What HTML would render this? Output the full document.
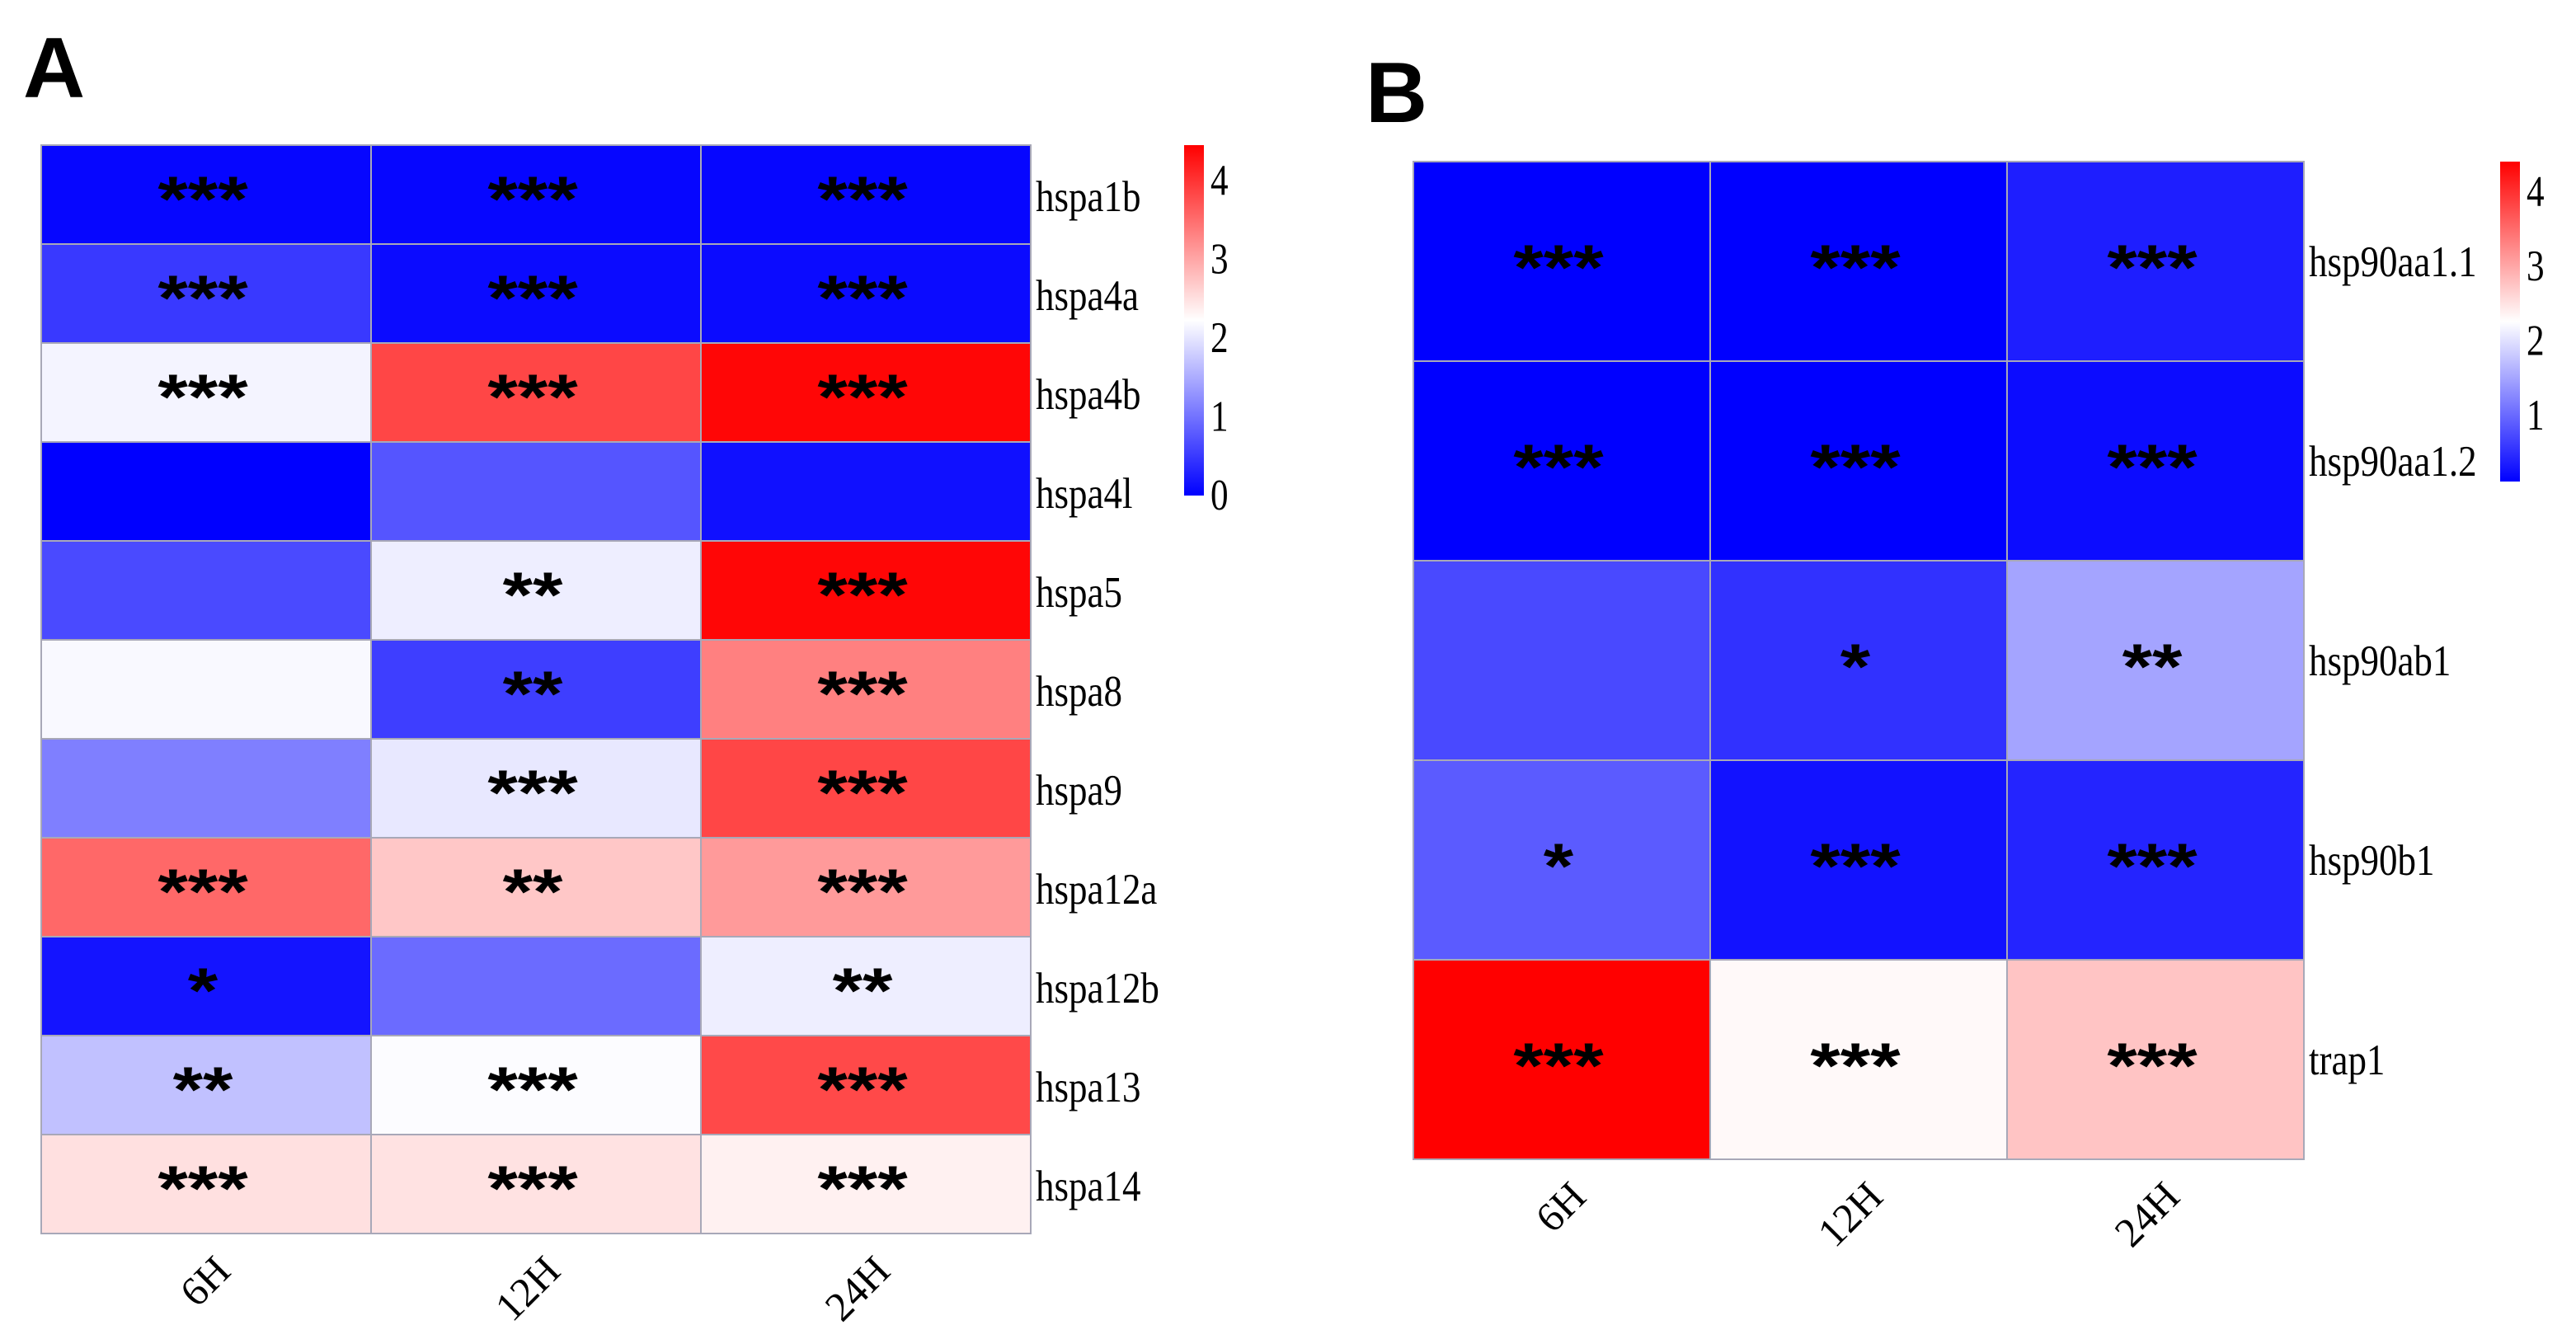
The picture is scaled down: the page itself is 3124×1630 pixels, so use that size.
<!DOCTYPE html>
<html><head><meta charset="utf-8"><style>
html,body{margin:0;padding:0;background:#fff;}
svg{display:block;}
text{font-family:"Liberation Serif",serif;}
.star{font-family:"Liberation Sans",sans-serif;font-weight:bold;}
.panel{font-family:"Liberation Sans",sans-serif;font-weight:bold;}
</style></head><body>
<svg id="chart" width="3124" height="1630" viewBox="0 0 3124 1630" xmlns="http://www.w3.org/2000/svg">
<defs>
<linearGradient id="gradA" x1="0" y1="1" x2="0" y2="0">
<stop offset="0" stop-color="#0000ff"/><stop offset="0.5" stop-color="#ffffff"/><stop offset="1" stop-color="#ff0000"/>
</linearGradient>
<linearGradient id="gradB" x1="0" y1="1" x2="0" y2="0">
<stop offset="0" stop-color="#0000ff"/><stop offset="0.5" stop-color="#ffffff"/><stop offset="1" stop-color="#ff0000"/>
</linearGradient>
</defs>
<text class="panel" x="28" y="118" font-size="104">A</text>
<text class="panel" x="1656" y="148" font-size="104">B</text>
<g id="gA"></g>
<g id="gB"></g>
</svg>
<script>
// Panel A data
const timepoints = ["6H", "12H", "24H"];
const genesA = ["hspa1b","hspa4a","hspa4b","hspa4l","hspa5","hspa8","hspa9","hspa12a","hspa12b","hspa13","hspa14"];
const valuesA = [
  [0.05,0.05,0.05],
  [0.5,0.1,0.1],
  [2.15,3.85,4.4],
  [0.0,0.75,0.14],
  [0.65,2.1,4.4],
  [2.2,0.55,3.35],
  [1.12,2.05,3.85],
  [3.55,2.73,3.12],
  [0.18,0.94,2.1],
  [1.7,2.22,3.82],
  [2.52,2.5,2.37]
];
const sigA = [
  ["***","***","***"],["***","***","***"],["***","***","***"],["","",""],
  ["","**","***"],["","**","***"],["","***","***"],["***","**","***"],
  ["*","","**"],["**","***","***"],["***","***","***"]
];
const ticksA = [0,1,2,3,4];
// Panel B data
const genesB = ["hsp90aa1.1","hsp90aa1.2","hsp90ab1","hsp90b1","trap1"];
const valuesB = [
  [0.15,0.15,0.4],
  [0.15,0.15,0.25],
  [0.75,0.55,1.5],
  [0.9,0.3,0.45],
  [4.4,2.3,2.75]
];
const sigB = [
  ["***","***","***"],["***","***","***"],["","*","**"],["*","***","***"],["***","***","***"]
];
const ticksB = [1,2,3,4];

const NS = "http://www.w3.org/2000/svg";
function mk(tag, attrs, parent){const e=document.createElementNS(NS,tag);for(const k in attrs)e.setAttribute(k,attrs[k]);parent.appendChild(e);return e;}
function colorFor(v, lo, mid, hi){
  let r,g,b;
  if(v<=mid){const t=Math.max(0,(v-lo)/(mid-lo));r=g=Math.round(255*t);b=255;}
  else{const t=Math.min(1,(v-mid)/(hi-mid));r=255;g=b=Math.round(255*(1-t));}
  return `rgb(${r},${g},${b})`;
}
function draw(cfg){
  const g=document.getElementById(cfg.id);
  const cw=(cfg.x1-cfg.x0)/cfg.cols.length, rh=(cfg.y1-cfg.y0)/cfg.rows.length;
  const xs=i=>cfg.x0+i*cw, ys=j=>cfg.y0+j*rh;
  cfg.rows.forEach((gene,j)=>{
    cfg.cols.forEach((c,i)=>{
      const r=mk("rect",{x:xs(i),y:ys(j),width:cw,height:rh,fill:colorFor(cfg.vals[j][i],cfg.lo,cfg.mid,cfg.hi),stroke:"#a8a8b8","stroke-width":2},g);
      
      
      const s=cfg.sig[j][i];
      if(s){
        const cx=xs(i)+cw/2-4, cy=ys(j)+rh/2+cfg.sdy;
        const t=mk("text",{class:"star",x:0,y:0,"font-size":78,"text-anchor":"middle",transform:`translate(${cx},${cy+44}) scale(1.2,1)`},g);
        t.textContent=s;
        
        
      }
    });
    const l=mk("text",{x:0,y:0,"font-size":50,transform:`translate(${cfg.x1+6},${ys(j)+rh/2+cfg.ldy}) scale(0.9,1.05)`},g);
    l.textContent=gene;
    
    
  });
  cfg.cols.forEach((c,i)=>{
    const ax=xs(i)+cw/2+8, ay=cfg.y1+24;
    const t=mk("text",{x:0,y:0,"font-size":50,"text-anchor":"end",transform:`translate(${ax},${ay}) rotate(-45) translate(0,34)`},g);
    t.textContent=c;
    
    
  });
  const cb=cfg.cb;
  const vy=v=>cb.y1-(v-cb.vmin)/(cb.vmax-cb.vmin)*(cb.y1-cb.y0);
  const rect=mk("rect",{x:cb.x,y:cb.y0,width:cb.w,height:cb.y1-cb.y0,fill:`url(#${cb.grad})`},g);
  
  
  cb.ticks.forEach(v=>{
    const t=mk("text",{x:0,y:0,"font-size":48,transform:`translate(${cb.x+cb.w+8},${vy(v)+17}) scale(0.9,1.1)`},g);
    t.textContent=String(v);
    
    
  });
}
draw({id:"gA",x0:50,x1:1250,y0:176,y1:1496,rows:genesA,cols:timepoints,vals:valuesA,sig:sigA,lo:0,mid:2.25,hi:4.45,sdy:-12,ldy:20,
  cb:{x:1436,w:24,y0:176,y1:601,vmin:0,vmax:4.45,ticks:ticksA,grad:"gradA"}});
draw({id:"gB",x0:1714,x1:2794,y0:196,y1:1406,rows:genesB,cols:timepoints,vals:valuesB,sig:sigB,lo:0.15,mid:2.25,hi:4.4,sdy:-10,ldy:18,
  cb:{x:3032,w:24,y0:196,y1:584,vmin:0.12,vmax:4.4,ticks:ticksB,grad:"gradB"}});
</script>
</body></html>
